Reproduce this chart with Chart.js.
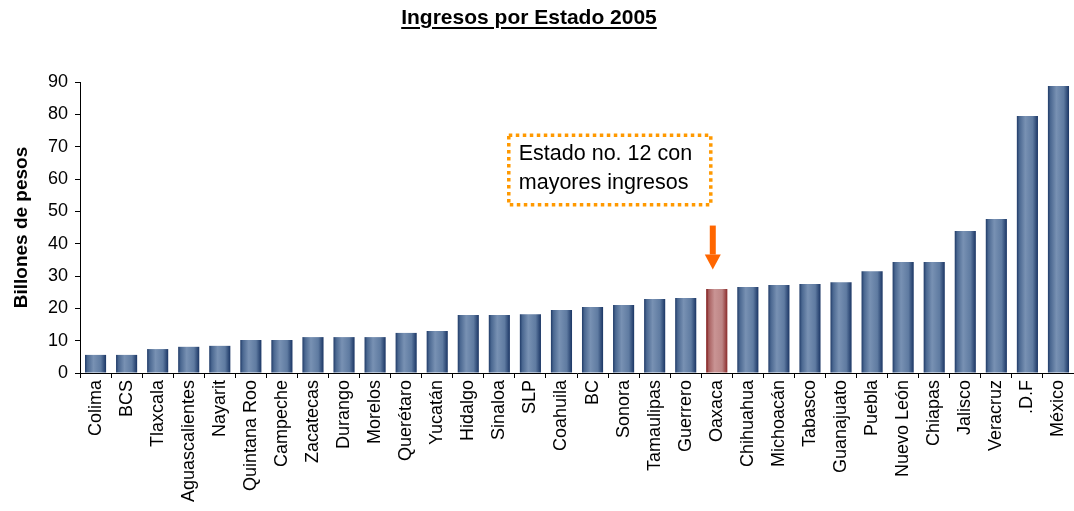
<!DOCTYPE html>
<html>
<head>
<meta charset="utf-8">
<script src="https://cdn.jsdelivr.net/npm/chart.js@4/dist/chart.umd.min.js"></script>
<style>
  body { margin: 0; background: #fff; font-family: "Liberation Sans", Arial, sans-serif; }
  #wrap { position: relative; width: 1074px; height: 511px; }
  #titulo {
    position: absolute; left: 0; top: 5px; width: 1058px; text-align: center;
    font-weight: bold; font-size: 21px; color: #000;
    text-decoration: underline; text-decoration-thickness: 2px; text-underline-offset: 3px;
  }
</style>
</head>
<body>
<div id="wrap">
  <div id="titulo">Ingresos por Estado 2005</div>
  <canvas id="grafico"></canvas>
</div>
<script>
// Estados ordenados por ingresos
const estados = [
  'Colima', 'BCS', 'Tlaxcala', 'Aguascalientes', 'Nayarit', 'Quintana Roo',
  'Campeche', 'Zacatecas', 'Durango', 'Morelos', 'Querétaro', 'Yucatán',
  'Hidalgo', 'Sinaloa', 'SLP', 'Coahuila', 'BC', 'Sonora', 'Tamaulipas',
  'Guerrero', 'Oaxaca', 'Chihuahua', 'Michoacán', 'Tabasco', 'Guanajuato',
  'Puebla', 'Nuevo León', 'Chiapas', 'Jalisco', 'Veracruz', '.D.F', 'México'
];

// Billones de pesos
const ingresos = [
  5.6, 5.6, 7.4, 8.1, 8.4, 10.2, 10.2, 11.1, 11.1, 11.1, 12.4, 13.0,
  17.9, 17.9, 18.2, 19.5, 20.4, 21.0, 22.9, 23.2, 26.0, 26.6, 27.2, 27.5,
  28.1, 31.5, 34.3, 34.3, 43.9, 47.6, 79.5, 88.8
];

const ticksY = [0, 10, 20, 30, 40, 50, 60, 70, 80, 90];
const estadoResaltado = 'Oaxaca';
const notaTexto = ['Estado no. 12 con', 'mayores ingresos'];

const idxResaltado = estados.indexOf(estadoResaltado);
const anchoBarra = 0.68;

// degradado horizontal por barra (scriptable, así cada barra tiene el suyo)
function colorBarra(context) {
  const chart = context.chart;
  const x = chart.scales.x;
  if (!chart.chartArea || !x || context.dataIndex === undefined) return '#5f7ba1';
  const xc = x.getPixelForValue(context.dataIndex);
  const w = (x.width / estados.length) * anchoBarra;
  const g = chart.ctx.createLinearGradient(xc - w / 2, 0, xc + w / 2, 0);
  if (context.dataIndex === idxResaltado) {
    g.addColorStop(0, '#7a0f0f');
    g.addColorStop(0.12, '#a86060');
    g.addColorStop(0.4, '#c99494');
    g.addColorStop(0.75, '#bd8585');
    g.addColorStop(1, '#8a2a2a');
  } else {
    g.addColorStop(0, '#203b68');
    g.addColorStop(0.12, '#4a6790');
    g.addColorStop(0.4, '#7891b3');
    g.addColorStop(0.75, '#5f7ba1');
    g.addColorStop(1, '#1a3564');
  }
  return g;
}

// cuadro punteado y flecha
const nota = {
  id: 'nota',
  afterDraw(chart) {
    const ctx = chart.ctx;
    const x = chart.scales.x;
    const y = chart.scales.y;
    const xc = x.getPixelForValue(idxResaltado);

    ctx.save();
    // cuadro
    const der = xc - 6;
    const izq = der - 202;
    const arriba = y.getPixelForValue(73.5);
    const abajo = y.getPixelForValue(52);
    ctx.strokeStyle = '#ff9900';
    ctx.lineWidth = 3.5;
    ctx.setLineDash([3.5, 3.5]);
    ctx.strokeRect(izq, arriba, der - izq, abajo - arriba);
    ctx.setLineDash([]);

    ctx.fillStyle = '#000';
    ctx.font = '21.5px "Liberation Sans", Arial, sans-serif';
    ctx.textBaseline = 'middle';
    ctx.textAlign = 'left';
    ctx.fillText(notaTexto[0], izq + 10, arriba + 19);
    ctx.fillText(notaTexto[1], izq + 10, arriba + 48);

    // flecha
    const xa = xc - 4;
    const y0 = y.getPixelForValue(45.6);
    const yPunta = y.getPixelForValue(32.0);
    const yCabeza = yPunta - 15;
    ctx.fillStyle = '#ff6600';
    ctx.fillRect(xa - 3, y0, 6, yCabeza - y0);
    ctx.beginPath();
    ctx.moveTo(xa - 8, yCabeza);
    ctx.lineTo(xa + 8, yCabeza);
    ctx.lineTo(xa, yPunta);
    ctx.closePath();
    ctx.fill();
    ctx.restore();
  }
};

Chart.defaults.font.family = '"Liberation Sans", Arial, sans-serif';
Chart.defaults.color = '#000';

new Chart(document.getElementById('grafico'), {
  type: 'bar',
  data: {
    labels: estados,
    datasets: [{
      label: 'Ingresos',
      data: ingresos,
      backgroundColor: colorBarra,
      barPercentage: anchoBarra,
      categoryPercentage: 1.0
    }]
  },
  options: {
    responsive: true,
    maintainAspectRatio: false,
    animation: false,
    layout: { padding: { top: 82, right: 0, left: 0, bottom: 0 } },
    plugins: {
      legend: { display: false },
      tooltip: { enabled: false }
    },
    scales: {
      x: {
        grid: {
          offset: true,
          drawOnChartArea: false,
          drawTicks: true,
          tickLength: 5,
          color: '#000'
        },
        border: { color: '#000', width: 1 },
        ticks: {
          autoSkip: false,
          maxRotation: 90,
          minRotation: 90,
          padding: 2,
          font: { size: 18 }
        },
        afterFit(scale) {
          scale.height = 138;
          scale.paddingRight = 0;
          scale.paddingLeft = 0;
        }
      },
      y: {
        min: 0,
        max: 90,
        afterBuildTicks(scale) { scale.ticks = ticksY.map(v => ({ value: v })); },
        grid: {
          drawOnChartArea: false,
          drawTicks: true,
          tickLength: 5,
          color: '#000'
        },
        border: { color: '#000', width: 1 },
        ticks: { padding: 7, font: { size: 18 } },
        title: {
          display: true,
          text: 'Billones de pesos',
          font: { size: 19, weight: 'bold' },
          padding: { top: 10, bottom: 0 }
        },
        afterFit(scale) { scale.width = 80; }
      }
    }
  },
  plugins: [nota]
});
</script>
</body>
</html>
